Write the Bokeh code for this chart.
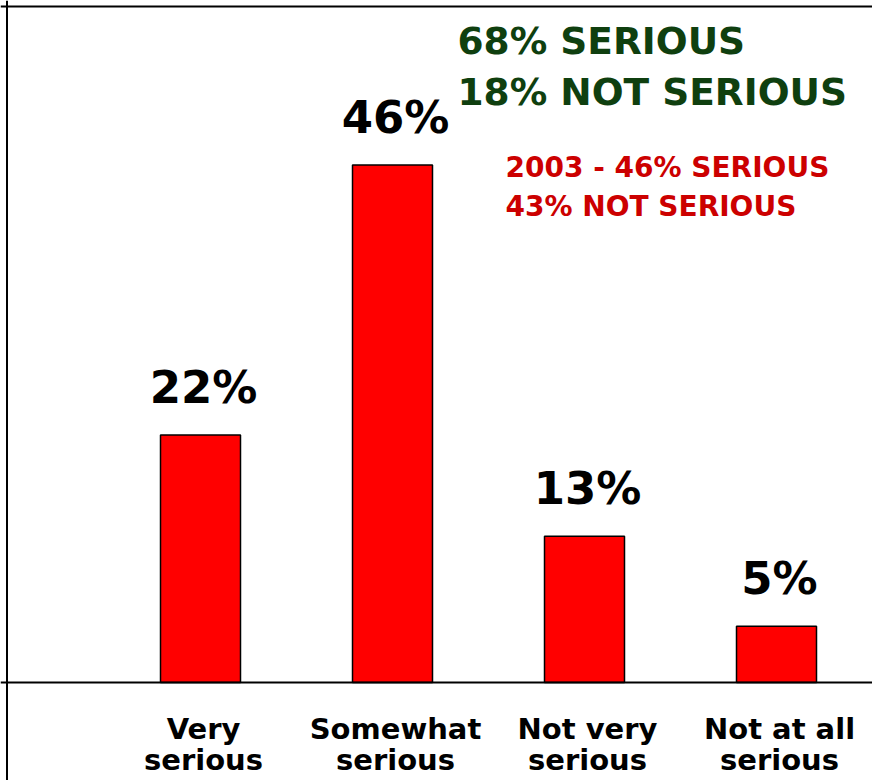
from bokeh.plotting import figure
from bokeh.models import Range1d, Span
from bokeh.core.properties import value
from bokeh.embed import file_html
from bokeh.resources import INLINE

# ---- data ----
cat_line1 = ["Very", "Somewhat", "Not very", "Not at all"]
cat_line2 = ["serious", "serious", "serious", "serious"]
values = [22, 46, 13, 5]
summary_now = ["68% SERIOUS", "18% NOT SERIOUS"]
summary_2003 = ["2003 - 46% SERIOUS", "43% NOT SERIOUS"]

# ---- layout helpers (picture pixels -> data units) ----
W, H = 872, 780
PX_CAT = 192.0      # pixels per category
PX_PCT = 11.25      # pixels per percentage point
FIRST_CENTER = 200  # picture x of first bar centre
BASE_Y = 682        # picture y of the 0 line
x_start = -FIRST_CENTER / PX_CAT
x_end = x_start + W / PX_CAT
y_end = BASE_Y / PX_PCT
y_start = y_end - H / PX_PCT
BL = 0.4  # renderer's baseline correction, in em


def X(px):
    return x_start + px / PX_CAT


def Y(py, fs=0.0):
    # py: wanted baseline in picture pixels; fs: font size for correction
    return y_end - (py - BL * fs) / PX_PCT


FONT = value("DejaVu Sans")

p = figure(width=W, height=H, x_range=Range1d(x_start, x_end), y_range=Range1d(y_start, y_end),
           min_border=0, toolbar_location=None, output_backend="svg",
           x_axis_type=None, y_axis_type=None, outline_line_color=None,
           background_fill_color="white", border_fill_color="white")

idx = list(range(len(values)))

# frame lines
p.add_layout(Span(location=X(6.5), dimension="height", line_color="black", line_width=2))
p.add_layout(Span(location=Y(6), dimension="width", line_color="black", line_width=2))
p.add_layout(Span(location=0, dimension="width", line_color="black", line_width=2))

# bars
p.vbar(x=idx, top=values, bottom=0, width=80 / PX_CAT, fill_color="#ff0000",
       line_color="black", line_width=1.5)

# value labels
pad = (30 + BL * 45) / PX_PCT
shift = 3 / PX_CAT
p.text(x=[i + shift for i in idx], y=[v + pad for v in values], text=[f"{v}%" for v in values],
       text_align="center", text_baseline="alphabetic", text_font=FONT,
       text_font_style="bold", text_font_size=value("45px"), text_color="black")

# category labels (two lines)
p.text(x=[i + shift for i in idx], y=[Y(740, 29)] * len(idx), text=cat_line1, text_align="center",
       text_baseline="alphabetic", text_font=FONT, text_font_style="bold",
       text_font_size=value("29px"), text_color="black")
p.text(x=[i + shift for i in idx], y=[Y(771, 29)] * len(idx), text=cat_line2, text_align="center",
       text_baseline="alphabetic", text_font=FONT, text_font_style="bold",
       text_font_size=value("29px"), text_color="black")

# summary texts
p.text(x=[X(457)] * 2, y=[Y(55.5, 37.5), Y(106, 37.5)], text=summary_now, text_align="left",
       text_baseline="alphabetic", text_font=FONT, text_font_style="bold",
       text_font_size=value("37.5px"), text_color="#0f3f0f")
p.text(x=[X(505)] * 2, y=[Y(178.5, 28), Y(217.5, 28)], text=summary_2003, text_align="left",
       text_baseline="alphabetic", text_font=FONT, text_font_style="bold",
       text_font_size=value("28px"), text_color="#cc0000")

open("out.html", "w").write(file_html(p, INLINE))
